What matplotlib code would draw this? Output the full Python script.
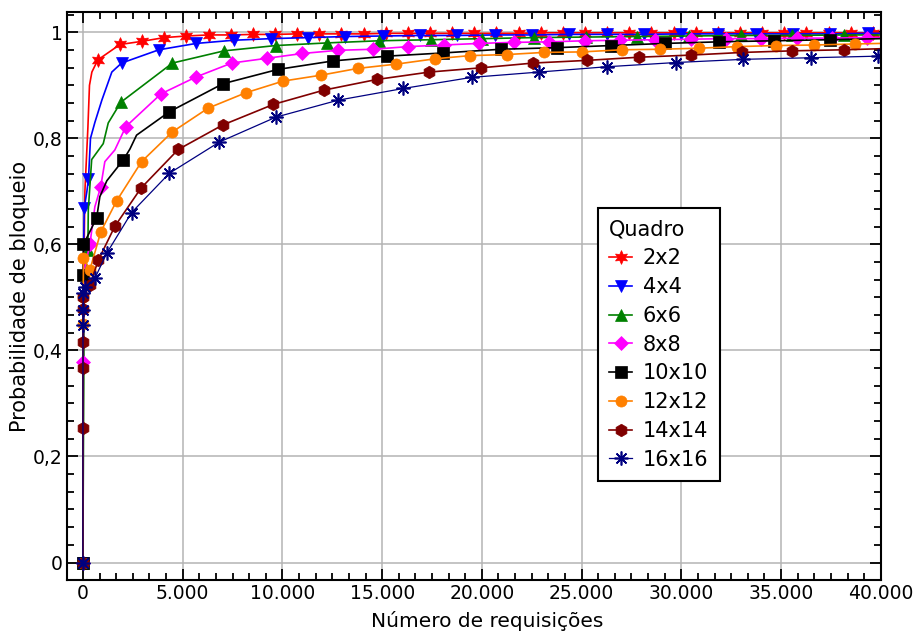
import matplotlib
matplotlib.use("Agg")
import matplotlib.pyplot as plt
from matplotlib.ticker import MultipleLocator, FuncFormatter

plt.rcParams['font.family'] = ['DejaVu Sans']

# ---- dados (numero de requisicoes x probabilidade de bloqueio) ----
x_2x2 = [0, 30, 100, 250, 330, 450, 750, 1860, 2970, 4080, 5190, 6300, 7410, 8520, 9630,
         10740, 11850, 12960, 14070, 15180, 16290, 17400, 18510, 19620, 20730, 21840, 22950,
         24060, 25170, 26280, 27390, 28500, 29610, 30720, 31830, 32940, 34050, 35160, 36270,
         37380, 38490, 39600, 40000]
y_2x2 = [0, 0.5, 0.7, 0.82, 0.9, 0.925, 0.948, 0.977, 0.983, 0.99, 0.993, 0.995, 0.995, 0.996,
         0.996, 0.997, 0.997, 0.997, 0.997, 0.998, 0.998, 0.998, 0.998, 0.998, 0.998, 0.998,
         0.999, 0.999, 0.999, 0.999, 0.999, 0.999, 0.999, 0.999, 0.999, 0.999, 0.999, 0.999,
         0.999, 0.999, 0.999, 0.999, 0.999]
sem_marca_2x2 = [1, 2, 3, 4, 5, 42]

x_4x4 = [0, 20, 40, 65, 200, 280, 380, 600, 950, 1450, 1940, 3810, 5680, 7550, 9420, 11290,
         13160, 15030, 16900, 18770, 20640, 22510, 24380, 26250, 28120, 29990, 31860, 33730,
         35600, 37470, 39340, 40000]
y_4x4 = [0, 0.45, 0.6, 0.668, 0.70, 0.723, 0.80, 0.83, 0.872, 0.925, 0.942, 0.967, 0.979,
         0.985, 0.988, 0.99, 0.992, 0.993, 0.994, 0.994, 0.995, 0.995, 0.996, 0.996, 0.996,
         0.997, 0.997, 0.997, 0.997, 0.997, 0.998, 0.998]
sem_marca_4x4 = [1, 2, 4, 6, 7, 8, 9, 31]

x_6x6 = [0, 60, 150, 250, 270, 440, 1020, 1270, 1900, 4490, 7080, 9670, 12260, 14850, 17440,
         20030, 22620, 25210, 27800, 30390, 32980, 35570, 38160, 40000]
y_6x6 = [0, 0.5, 0.56, 0.59, 0.665, 0.76, 0.79, 0.829, 0.868, 0.942, 0.965, 0.975, 0.980,
         0.984, 0.986, 0.988, 0.990, 0.991, 0.992, 0.993, 0.994, 0.994, 0.995, 0.995]
sem_marca_6x6 = [1, 2, 4, 5, 6, 7, 23]

x_8x8 = [0, 10, 60, 350, 600, 890, 1100, 1600, 2150, 3920, 5690, 7460, 9230, 11000, 12770,
         14540, 16310, 18080, 19850, 21620, 23390, 25160, 26930, 28700, 30470, 32240, 34010,
         35780, 37550, 39320, 40000]
y_8x8 = [0, 0.378, 0.55, 0.60, 0.671, 0.708, 0.756, 0.778, 0.822, 0.884, 0.916, 0.942, 0.951,
         0.960, 0.966, 0.968, 0.973, 0.976, 0.979, 0.981, 0.982, 0.984, 0.985, 0.986, 0.987,
         0.988, 0.988, 0.989, 0.989, 0.990, 0.990]
sem_marca_8x8 = [2, 4, 6, 7, 30]

x_10x10 = [0, 10, 30, 690, 850, 1200, 2020, 2360, 2690, 4330, 7020, 9780, 12540, 15250, 18050,
           20960, 23750, 26480, 29190, 31900, 34650, 37430, 40000]
y_10x10 = [0, 0.542, 0.60, 0.65, 0.69, 0.72, 0.759, 0.78, 0.806, 0.85, 0.903, 0.93, 0.946,
           0.955, 0.961, 0.968, 0.971, 0.975, 0.979, 0.982, 0.984, 0.986, 0.988]
sem_marca_10x10 = [4, 5, 7, 8, 22]

x_12x12 = [0, 5, 15, 30, 350, 900, 1690, 2940, 4480, 6280, 8170, 10040, 11920, 13800, 15720,
           17650, 19400, 21250, 23090, 25010, 27010, 28940, 30890, 32810, 34750, 36660, 38720,
           40000]
y_12x12 = [0, 0.45, 0.5, 0.575, 0.552, 0.624, 0.682, 0.756, 0.812, 0.857, 0.886, 0.908, 0.919,
           0.932, 0.940, 0.950, 0.956, 0.958, 0.962, 0.963, 0.967, 0.968, 0.970, 0.973, 0.975,
           0.976, 0.978, 0.979]
sem_marca_12x12 = [27]

x_14x14 = [0, 3, 6, 10, 15, 25, 350, 770, 1600, 2910, 4780, 7000, 9550, 12090, 14730, 17370,
           19960, 22580, 25260, 27880, 30470, 33060, 35540, 38130, 40000]
y_14x14 = [0, 0.253, 0.367, 0.416, 0.479, 0.50, 0.523, 0.570, 0.634, 0.706, 0.779, 0.825,
           0.864, 0.891, 0.911, 0.925, 0.933, 0.942, 0.947, 0.953, 0.957, 0.962, 0.965, 0.967,
           0.969]
sem_marca_14x14 = [24]

x_16x16 = [0, 5, 10, 20, 100, 600, 1190, 2440, 4330, 6840, 9680, 12800, 16060, 19490, 22870,
           26260, 29740, 33110, 36490, 39880, 40000]
y_16x16 = [0, 0.448, 0.476, 0.508, 0.52, 0.536, 0.583, 0.66, 0.734, 0.793, 0.840, 0.872, 0.894,
           0.915, 0.925, 0.935, 0.943, 0.949, 0.952, 0.955, 0.955]
sem_marca_16x16 = [20]

rotulos = ['2x2', '4x4', '6x6', '8x8', '10x10', '12x12', '14x14', '16x16']
cores = ['#ff0000', '#0000ff', '#008000', '#ff00ff', '#000000', '#ff8000', '#800000', '#000080']

series = [(x_2x2, y_2x2, sem_marca_2x2), (x_4x4, y_4x4, sem_marca_4x4),
          (x_6x6, y_6x6, sem_marca_6x6), (x_8x8, y_8x8, sem_marca_8x8),
          (x_10x10, y_10x10, sem_marca_10x10), (x_12x12, y_12x12, sem_marca_12x12),
          (x_14x14, y_14x14, sem_marca_14x14), (x_16x16, y_16x16, sem_marca_16x16)]
marcadores = [(6, 1, 0), 'v', '^', 'D', 's', 'o', 'h', (8, 2, 0)]
tamanhos = [10, 9, 8.5, 7.5, 9, 8, 9, 10]
larguras = [1.2, 1.2, 1.2, 1.2, 1.2, 1.2, 1.2, 0.9]

fig = plt.figure(figsize=(9.17, 6.39), dpi=100)
ax = fig.add_axes([0.073, 0.092, 0.888, 0.889])

for (xs, ys, sem), rot, cor, mk, ms, lw in zip(series, rotulos, cores, marcadores, tamanhos, larguras):
    marca = [i for i in range(len(xs)) if i not in sem]
    ax.plot(xs, ys, color=cor, lw=lw, marker=mk, markersize=ms, markevery=marca,
            markeredgecolor=cor, markeredgewidth=1.2 if mk == (8, 2, 0) else 0.5, label=rot)

ax.set_xlim(-800, 40020)
ax.set_ylim(-0.0334, 1.038)

ax.xaxis.set_major_locator(MultipleLocator(5000))
ax.xaxis.set_minor_locator(MultipleLocator(5000 / 6))
ax.yaxis.set_major_locator(MultipleLocator(0.2))
ax.yaxis.set_minor_locator(MultipleLocator(0.2 / 6))
ax.xaxis.set_major_formatter(FuncFormatter(lambda v, p: f"{int(round(v)):,}".replace(',', '.')))
ax.yaxis.set_major_formatter(FuncFormatter(lambda v, p: f"{v:.1f}".replace('.', ',') if abs(v - round(v)) > 1e-6 else str(int(round(v)))))

ax.tick_params(which='both', direction='in', top=True, right=True, width=1.3, labelsize=13.5)
ax.tick_params(which='major', length=8, pad=3)
ax.tick_params(which='minor', length=5)
for s in ax.spines.values():
    s.set_linewidth(1.5)

ax.grid(True, which='major', color='#b4b4b4', lw=1.1)
ax.set_axisbelow(True)

ax.set_xlabel('Número de requisições', fontsize=14.5, labelpad=1)
ax.set_ylabel('Probabilidade de bloqueio', fontsize=15, labelpad=4)
ax.xaxis.set_label_coords(0.516, -0.055)
ax.yaxis.set_label_coords(-0.045, 0.5)

leg = ax.legend(title='Quadro', loc='upper left', bbox_to_anchor=(0.652, 0.655), borderaxespad=0,
                fontsize=15, title_fontsize=15, fancybox=False, framealpha=1, edgecolor='black',
                handlelength=1.1, handletextpad=0.5, labelspacing=0.42, borderpad=0.55,
                alignment='left')
leg.get_frame().set_linewidth(1.5)

fig.savefig('out.png', dpi=100)
